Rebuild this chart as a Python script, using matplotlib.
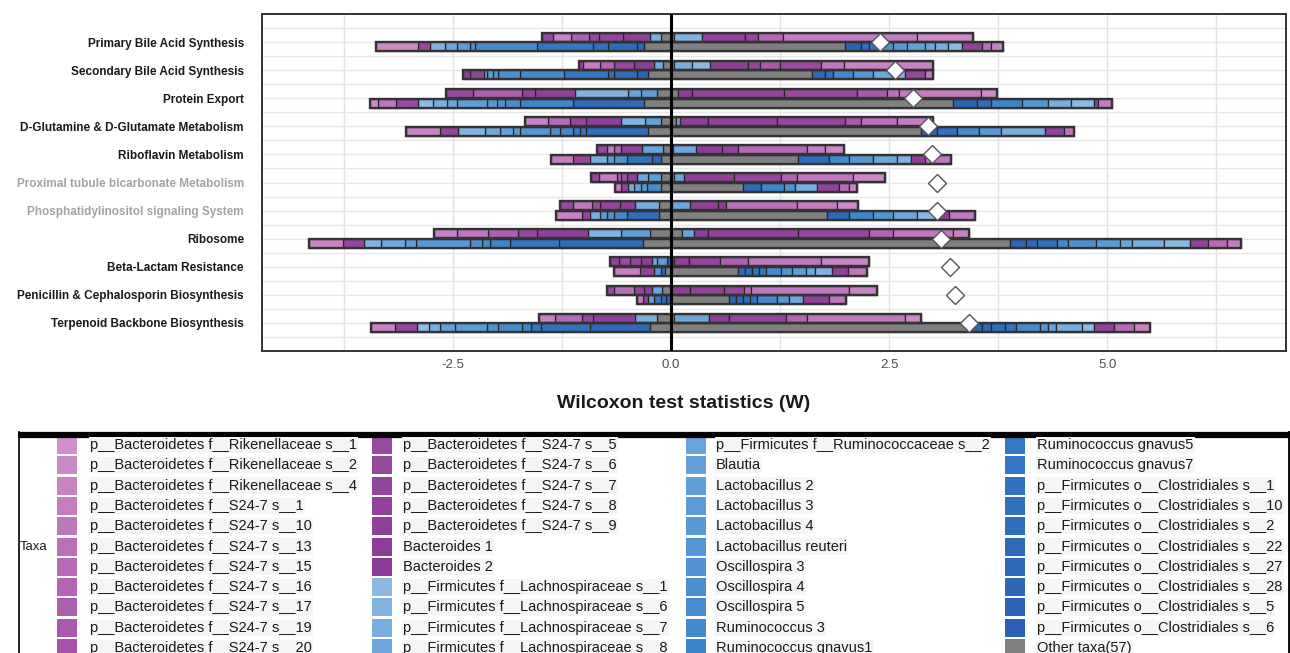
import matplotlib
matplotlib.use("Agg")
import matplotlib.pyplot as plt
import numpy as np
from matplotlib.colors import to_rgb, to_hex
from matplotlib.patches import Rectangle

plt.rcParams['font.family'] = ['Liberation Sans', 'DejaVu Sans']

# ---- data -------------------------------------------------------------
pathways = ["Primary Bile Acid Synthesis", "Secondary Bile Acid Synthesis",
            "Protein Export", "D-Glutamine & D-Glutamate Metabolism",
            "Riboflavin Metabolism", "Proximal tubule bicarbonate Metabolism",
            "Phosphatidylinositol signaling System", "Ribosome",
            "Beta-Lactam Resistance", "Penicillin & Cephalosporin Biosynthesis",
            "Terpenoid Backbone Biosynthesis"]
grey_label = [False, False, False, False, False, True, True, False, False, False, False]

# Wilcoxon statistic (diamonds)
w_stat = [2.40, 2.57, 2.77, 2.94, 2.99, 3.05, 3.05, 3.09, 3.20, 3.25, 3.41]

# each segment: (taxon index, cumulative |W| at its outer end), from 0 outward
top_neg = [
    [(43, .11), (20, .24), (15, .55), (13, .83), (12, .94), (8, 1.15), (2, 1.35), (11, 1.48)],
    [(43, .09), (21, .20), (16, .43), (12, .66), (7, .82), (3, 1.01), (13, 1.06)],
    [(43, .16), (24, .34), (22, .49), (19, 1.10), (15, 1.56), (13, 1.71), (8, 2.27), (11, 2.58)],
    [(43, .12), (23, .30), (19, .57), (15, .97), (12, 1.16), (6, 1.41), (2, 1.67)],
    [(43, .09), (22, .33), (15, .57), (7, .66), (3, .74), (12, .85)],
    [(43, .12), (24, .26), (21, .39), (15, .51), (10, .57), (8, .62), (3, .83), (12, .92)],
    [(43, .14), (20, .41), (16, .58), (13, .81), (11, .91), (4, 1.12), (12, 1.27)],
    [(43, .24), (24, .57), (19, .95), (15, 1.54), (12, 1.76), (8, 2.10), (4, 2.46), (2, 2.72)],
    [(42, .05), (25, .16), (21, .22), (16, .34), (13, .47), (11, .60), (14, .70)],
    [(43, .10), (22, .22), (16, .31), (13, .43), (5, .66), (12, .74)],
    [(43, .16), (20, .41), (15, .89), (12, 1.02), (6, 1.33), (2, 1.51)],
]
top_pos = [
    [(43, .03), (19, .36), (14, .85), (12, 1.00), (6, 1.28), (3, 2.82), (1, 3.46)],
    [(43, .03), (20, .24), (18, .45), (15, .88), (13, 1.02), (9, 1.25), (11, 1.72), (4, 1.98), (2, 3.00)],
    [(43, .08), (16, .24), (14, 1.30), (12, 2.13), (9, 2.48), (5, 2.61), (3, 3.55), (1, 3.74)],
    [(43, .06), (22, .10), (16, .42), (14, 1.21), (12, 1.99), (9, 2.18), (5, 2.59), (3, 3.00)],
    [(43, .02), (21, .29), (16, .58), (13, .77), (6, 1.56), (3, 1.76), (1, 1.98)],
    [(43, .03), (22, .15), (15, .72), (12, 1.26), (7, 1.44), (4, 2.09), (1, 2.45)],
    [(43, .01), (21, .22), (15, .54), (17, .63), (5, 1.44), (3, 1.90), (1, 2.14)],
    [(43, .13), (22, .26), (16, .42), (14, 1.46), (12, 2.27), (7, 2.55), (4, 3.23), (2, 3.41)],
    [(42, .03), (15, .20), (13, .56), (8, .88), (4, 1.72), (2, 2.27)],
    [(16, .22), (14, .61), (12, .84), (7, .92), (4, 2.04), (2, 2.36)],
    [(43, .03), (21, .43), (16, .66), (13, 1.32), (7, 1.56), (4, 2.68), (1, 2.87)],
]
bot_neg = [
    [(43, .31), (40, .39), (38, .72), (36, .89), (34, 1.54), (30, 2.25), (28, 2.30), (25, 2.46),
     (21, 2.59), (19, 2.76), (12, 2.90), (1, 3.38)],
    [(43, .26), (41, .39), (38, .66), (36, .72), (34, 1.23), (31, 1.73), (29, 1.98), (27, 2.04),
     (25, 2.11), (23, 2.15), (14, 2.30), (16, 2.38)],
    [(43, .31), (38, 1.12), (32, 1.73), (30, 1.90), (28, 2.00), (26, 2.11), (24, 2.46), (22, 2.57),
     (20, 2.73), (18, 2.90), (11, 3.15), (4, 3.36), (1, 3.45)],
    [(43, .26), (37, .98), (35, 1.04), (33, 1.12), (31, 1.27), (29, 1.39), (27, 1.73), (25, 1.81),
     (23, 1.96), (21, 2.13), (19, 2.44), (13, 2.65), (2, 3.04)],
    [(43, .12), (39, .22), (35, .51), (28, .66), (24, .74), (20, .93), (12, 1.12), (3, 1.38)],
    [(43, .12), (30, .28), (26, .35), (23, .43), (20, .49), (13, .57), (3, .64)],
    [(43, .14), (37, .51), (31, .66), (28, .74), (25, .81), (20, .93), (13, 1.02), (2, 1.32)],
    [(43, .32), (38, 1.28), (34, 1.85), (32, 2.08), (30, 2.17), (28, 2.31), (26, 2.92), (24, 3.05),
     (21, 3.33), (19, 3.52), (13, 3.76), (2, 4.15)],
    [(43, .07), (37, .12), (27, .20), (14, .36), (3, .65)],
    [(40, .06), (37, .12), (34, .20), (23, .26), (14, .32), (3, .39)],
    [(43, .24), (39, .93), (36, 1.49), (34, 1.61), (32, 1.71), (30, 1.99), (28, 2.11), (25, 2.48),
     (23, 2.65), (20, 2.78), (18, 2.91), (13, 3.17), (2, 3.44)],
]
bot_pos = [
    [(43, 1.99), (41, 2.18), (37, 2.27), (35, 2.38), (29, 2.54), (26, 2.71), (23, 2.91), (21, 3.03),
     (20, 3.17), (18, 3.33), (14, 3.56), (5, 3.67), (2, 3.80)],
    [(43, 1.62), (40, 1.76), (36, 1.86), (31, 2.09), (27, 2.31), (21, 2.54), (19, 2.68), (13, 2.91), (4, 3.00)],
    [(43, 3.23), (41, 3.51), (37, 3.67), (32, 4.02), (27, 4.32), (20, 4.59), (18, 4.85), (14, 4.89), (3, 5.05)],
    [(43, 2.87), (40, 3.05), (36, 3.28), (30, 3.53), (26, 3.78), (20, 4.29), (14, 4.50), (4, 4.62)],
    [(43, 1.46), (38, 1.81), (31, 2.04), (26, 2.31), (21, 2.59), (19, 2.75), (15, 2.91), (4, 3.21)],
    [(43, .82), (39, 1.03), (32, 1.30), (28, 1.42), (20, 1.67), (14, 1.92), (6, 2.04), (2, 2.13)],
    [(43, 1.79), (40, 2.04), (32, 2.32), (27, 2.54), (21, 2.82), (18, 3.03), (14, 3.19), (4, 3.49)],
    [(43, 3.89), (41, 4.07), (39, 4.20), (36, 4.43), (31, 4.55), (28, 4.87), (25, 5.15), (22, 5.29),
     (20, 5.65), (18, 5.95), (14, 6.16), (6, 6.37), (3, 6.53)],
    [(43, .77), (40, .85), (38, .93), (36, 1.01), (34, 1.09), (30, 1.26), (27, 1.39), (24, 1.55),
     (21, 1.65), (19, 1.85), (14, 2.03), (4, 2.25)],
    [(43, .66), (41, .74), (39, .82), (37, .90), (35, .98), (31, 1.21), (26, 1.35), (21, 1.51), (15, 1.81), (4, 2.00)],
    [(43, 3.44), (41, 3.56), (39, 3.67), (37, 3.83), (35, 3.95), (30, 4.23), (27, 4.32), (22, 4.41),
     (20, 4.71), (18, 4.85), (14, 5.08), (6, 5.31), (2, 5.49)],
]

taxa = (["p__Bacteroidetes f__Rikenellaceae s__" + s for s in ["1", "2", "4"]]
        + ["p__Bacteroidetes f__S24-7 s__" + s for s in ["1", "10", "13", "15", "16", "17", "19", "20",
                                                         "5", "6", "7", "8", "9"]]
        + ["Bacteroides 1", "Bacteroides 2"]
        + ["p__Firmicutes f__Lachnospiraceae s__" + s for s in ["1", "6", "7", "8"]]
        + ["p__Firmicutes f__Ruminococcaceae s__2", "Blautia", "Lactobacillus 2", "Lactobacillus 3",
           "Lactobacillus 4", "Lactobacillus reuteri", "Oscillospira 3", "Oscillospira 4",
           "Oscillospira 5", "Ruminococcus 3", "Ruminococcus gnavus1", "Ruminococcus gnavus5",
           "Ruminococcus gnavus7"]
        + ["p__Firmicutes o__Clostridiales s__" + s for s in ["1", "10", "2", "22", "27", "28", "5", "6"]]
        + ["Other taxa(57)"])

# ---- palette (taxon colours, light pink -> purple -> light blue -> dark blue, grey) ----
def ramp(c0, c1, n):
    a, b = np.array(to_rgb(c0)), np.array(to_rgb(c1))
    return [to_hex(a + (b - a) * t) for t in np.linspace(0, 1, n)]

pal = (ramp('#d08fc9', '#a653aa', 11) + ramp('#9a49a1', '#8c3c96', 7)
       + ramp('#8cb9e2', '#6ea7dc', 4) + ramp('#69a4db', '#3e86cb', 11)
       + ramp('#3479c4', '#2c60b4', 10) + ['#808080'])

# ---- figure -------------------------------------------------------------
fig = plt.figure(figsize=(12.9, 6.53), dpi=100)
ax = fig.add_axes([262 / 1290, 1 - 351 / 653, 1024 / 1290, 337 / 653])

n = len(pathways)
ypos = np.arange(1, n + 1)
ax.set_ylim(n + 1, 0)
ax.set_xlim(-4.69, 7.05)

for v in np.arange(-3.75, 7.0, 1.25):
    ax.axvline(v, color='#e3e3e3', lw=1.0, zorder=0)
for v in np.arange(0.5, n + 1, 0.5):
    ax.axhline(v, color='#e6e6e6', lw=1.0, zorder=0)

h = 0.32
edge = '#262626'


def draw_half(y0, segs, sign):
    start = 0.0
    for taxon, end in segs:
        ax.barh(y0, sign * (end - start), left=sign * start, height=h, align='edge',
                color=pal[taxon], edgecolor=edge, linewidth=0.9, zorder=2)
        start = end
    return start


for i, c in enumerate(ypos):
    for y0, neg, pos in [(c - h - 0.01, top_neg[i], top_pos[i]),
                         (c + 0.01, bot_neg[i], bot_pos[i])]:
        left = draw_half(y0, neg, -1)
        right = draw_half(y0, pos, 1)
        ax.barh(y0, left + right, left=-left, height=h, align='edge', fill=False,
                edgecolor='#333333', linewidth=1.7, zorder=3)

ax.axvline(0, color='black', lw=2.2, zorder=4)
ax.plot(w_stat, ypos, 'D', ms=9, mfc='white', mec='#555555', mew=1.0, zorder=5)

ax.set_yticks(ypos)
ax.set_yticklabels(pathways, fontsize=8.5, fontweight='bold')
for lab, g in zip(ax.get_yticklabels(), grey_label):
    lab.set_color('#a3a3a3' if g else '#1a1a1a')
ax.set_xticks([-2.5, 0, 2.5, 5.0])
ax.set_xticklabels(['-2.5', '0.0', '2.5', '5.0'], fontsize=9.5, color='#4d4d4d')
ax.tick_params(length=0, pad=6)
ax.tick_params(axis='y', pad=13)
for s in ax.spines.values():
    s.set_color('#333333')
    s.set_linewidth(1.4)

fig.text(684 / 1290, 1 - 404 / 653, 'Wilcoxon test statistics (W)', ha='center', va='center',
         fontsize=14, fontweight='bold', color='#1a1a1a')

# ---- taxa legend ------------------------------------------------------
lax = fig.add_axes([0, 0, 1, 1 - 430 / 653])
lax.set_xlim(0, 1290)
lax.set_ylim(653, 430)
lax.axis('off')
lax.plot([18, 1290], [434.5, 434.5], color='black', lw=4.5, solid_capstyle='butt')
lax.plot([18.5, 18.5], [432, 653], color='black', lw=1.2)
lax.plot([1289, 1289], [432, 653], color='black', lw=2)
lax.text(20, 547, 'Taxa', fontsize=9.5, va='center', ha='left', color='#1a1a1a')

nrow = 11
sw_x = [57, 372, 686, 1005]
tx_x = [90, 403, 716, 1037]
for k, name in enumerate(taxa):
    col, row = divmod(k, nrow)
    y = 445 + 20.3 * row
    lax.add_patch(Rectangle((sw_x[col], y - 9), 20, 18, facecolor=pal[k], edgecolor='none'))
    lax.text(tx_x[col], y, name, fontsize=10.5, va='center', ha='left', color='#1a1a1a',
             bbox=dict(facecolor='#f5f5f5', edgecolor='none', pad=0.8))

fig.savefig('out.png', dpi=100)
